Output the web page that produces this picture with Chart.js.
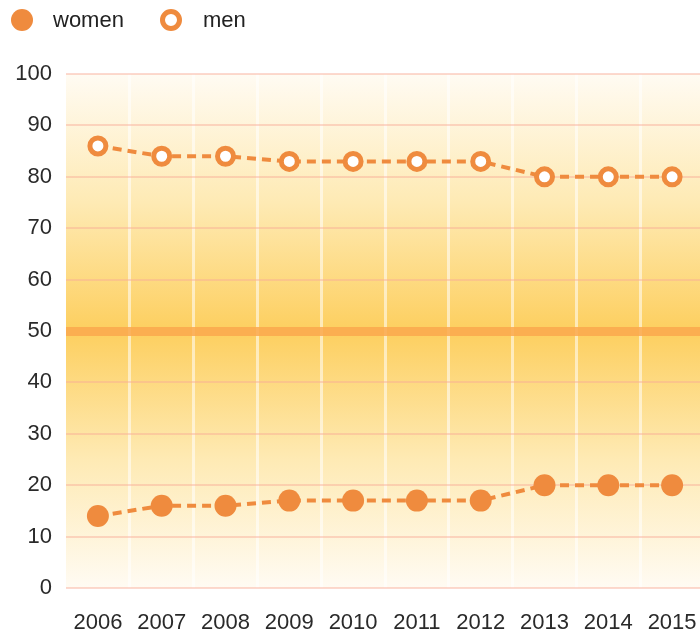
<!DOCTYPE html>
<html>
<head>
<meta charset="utf-8">
<script src="https://cdn.jsdelivr.net/npm/chart.js@4"></script>
<style>
  html, body { margin: 0; padding: 0; background: #fff; overflow: hidden; }
  #wrap { position: relative; width: 700px; height: 635px; overflow: hidden; }
  #chart { position: absolute; left: 0; top: 0; }
  #legend { position: absolute; left: 0; top: 0; height: 40px; font-family: "Liberation Sans", Arial, sans-serif; font-size: 22px; color: #222; }
  .item { position: absolute; top: 8px; line-height: 24px; white-space: nowrap; }
  .dot { position: absolute; width: 22px; height: 22px; border-radius: 50%; box-sizing: border-box; }
</style>
</head>
<body>
<div id="wrap">
  <canvas id="chart" width="704" height="635"></canvas>
  <div id="legend"></div>
</div>
<script>
(function(){
  const years = ['2006', '2007', '2008', '2009', '2010', '2011', '2012', '2013', '2014', '2015'];
  const women = [14, 16, 16, 17, 17, 17, 17, 20, 20, 20];
  const men = [86, 84, 84, 83, 83, 83, 83, 80, 80, 80];
  const yTicks = [0, 10, 20, 30, 40, 50, 60, 70, 80, 90, 100];

  const orange = '#ef8b3e';

  // soft yellow band behind the plot, strongest at 50
  const bgGradient = {
    id: 'bgGradient',
    beforeDraw(chart) {
      const { ctx, chartArea: a } = chart;
      if (!a) return;
      const g = ctx.createLinearGradient(0, a.top, 0, a.bottom);
      g.addColorStop(0, '#fffbf3');
      g.addColorStop(0.25, '#feeab4');
      g.addColorStop(0.5, '#fdcf5f');
      g.addColorStop(0.75, '#feeab4');
      g.addColorStop(1, '#fffbf3');
      ctx.save();
      ctx.fillStyle = g;
      ctx.fillRect(a.left, a.top, a.right - a.left, a.bottom - a.top);
      ctx.restore();
    }
  };

  const ctx = document.getElementById('chart').getContext('2d');
  const chart = new Chart(ctx, {
    type: 'line',
    data: {
      labels: years,
      datasets: [{
        label: 'women',
        data: women,
        borderColor: orange,
        backgroundColor: orange,
        borderWidth: 4,
        borderDash: [9, 6],
        pointRadius: 11,
        pointBorderWidth: 0,
        pointBackgroundColor: orange,
        pointHoverRadius: 11,
        fill: false,
        tension: 0
      }, {
        label: 'men',
        data: men,
        borderColor: orange,
        backgroundColor: '#ffffff',
        borderWidth: 4,
        borderDash: [9, 6],
        pointRadius: 8,
        pointBorderWidth: 5,
        pointBorderColor: orange,
        pointBackgroundColor: '#ffffff',
        pointHoverRadius: 8,
        fill: false,
        tension: 0
      }]
    },
    options: {
      responsive: false,
      animation: false,
      layout: { autoPadding: false, padding: { top: 74, right: 0, left: 0, bottom: 0 } },
      plugins: {
        legend: { display: false },
        tooltip: { enabled: false }
      },
      scales: {
        x: {
          offset: true,
          border: { display: false },
          grid: {
            offset: true,
            drawTicks: true,
            tickLength: 22,
            tickColor: 'rgba(0,0,0,0)',
            lineWidth: 3,
            color: c => c.index === 0 ? 'rgba(0,0,0,0)' : 'rgba(255,255,255,0.55)'
          },
          ticks: {
            padding: 0,
            color: '#2a2a2a',
            font: { family: '"Liberation Sans", Arial, sans-serif', size: 22 },
            maxRotation: 0,
            autoSkip: false
          },
          afterFit(scale) {
            scale.height = 47;
            scale.paddingLeft = 0;
            scale.paddingRight = 0;
          }
        },
        y: {
          min: 0,
          max: 100,
          border: { display: false },
          grid: {
            drawTicks: false,
            lineWidth: c => c.tick && c.tick.value === 50 ? 9 : 2,
            color: c => c.tick && c.tick.value === 50 ? 'rgba(250,168,78,0.85)' : 'rgba(248,170,150,0.45)'
          },
          afterBuildTicks(scale) {
            scale.ticks = yTicks.map(v => ({ value: v }));
          },
          ticks: {
            padding: 14,
            color: '#2a2a2a',
            font: { family: '"Liberation Sans", Arial, sans-serif', size: 22 }
          },
          afterFit(scale) { scale.width = 66; }
        }
      }
    },
    plugins: [bgGradient]
  });

  // legend built from the datasets
  const legend = document.getElementById('legend');
  const spots = [{ dot: 11, text: 53 }, { dot: 160, text: 203 }];
  chart.data.datasets.forEach((ds, i) => {
    const dot = document.createElement('span');
    dot.className = 'dot';
    dot.style.left = spots[i].dot + 'px';
    dot.style.top = '9px';
    if (i === 0) {
      dot.style.background = orange;
    } else {
      dot.style.background = '#fff';
      dot.style.border = '5px solid ' + orange;
    }
    legend.appendChild(dot);

    const txt = document.createElement('span');
    txt.className = 'item';
    txt.style.left = spots[i].text + 'px';
    txt.textContent = ds.label;
    legend.appendChild(txt);
  });
})();
</script>
</body>
</html>
